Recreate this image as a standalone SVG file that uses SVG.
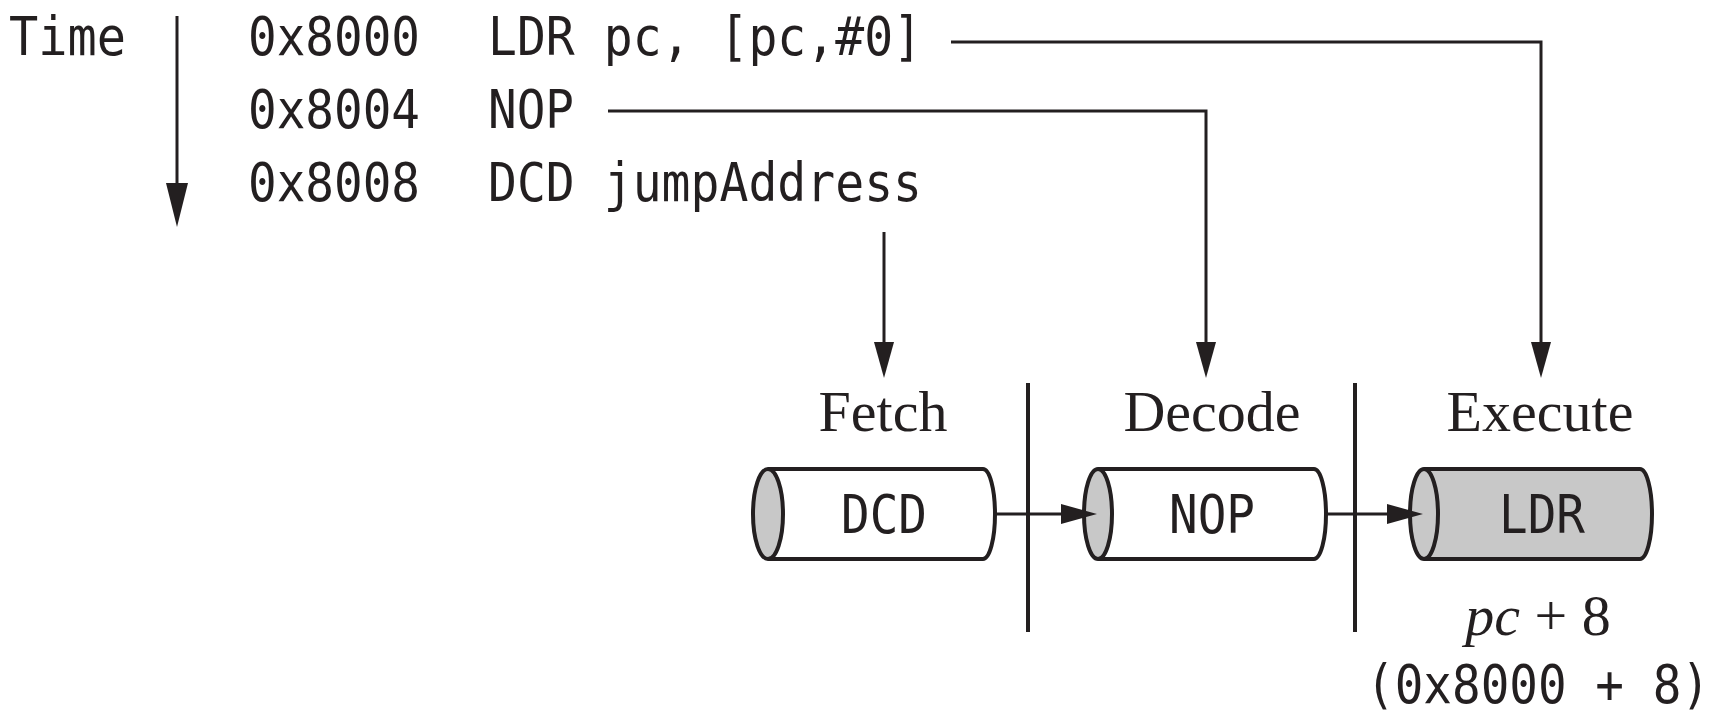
<svg xmlns="http://www.w3.org/2000/svg" width="1723" height="712" viewBox="0 0 1723 712">
<style>
  .mono { font-family: "DejaVu Sans Mono", "Liberation Mono", monospace; font-size: 54px; fill: #231f20; }
  .serif { font-family: "Liberation Serif", "Times New Roman", serif; font-size: 58px; fill: #231f20; }
  .conn { fill: none; stroke: #231f20; stroke-width: 3; }
  .sep { stroke: #231f20; stroke-width: 4; }
  .body { stroke: #231f20; stroke-width: 4; stroke-linejoin: round; }
  .cap { fill: #c8c8c8; stroke: #231f20; stroke-width: 4; }
</style>
<defs>
  <marker id="ah" markerUnits="userSpaceOnUse" markerWidth="36" markerHeight="20" refX="26" refY="10" orient="auto">
    <path d="M0,0 L36,10 L0,20 Z" fill="#231f20"/>
  </marker>
  <marker id="ahT" markerUnits="userSpaceOnUse" markerWidth="44" markerHeight="22" refX="34" refY="11" orient="auto">
    <path d="M0,0 L44,11 L0,22 Z" fill="#231f20"/>
  </marker>
</defs>

<g id="time">
  <text class="mono" x="9" y="55" textLength="117" lengthAdjust="spacingAndGlyphs">Time</text>
</g>

<g id="code">
  <text class="mono" x="248" y="55" textLength="172" lengthAdjust="spacingAndGlyphs">0x8000</text>
  <text class="mono" x="488" y="55" textLength="434" lengthAdjust="spacingAndGlyphs">LDR pc, [pc,#0]</text>
  <text class="mono" x="248" y="128" textLength="172" lengthAdjust="spacingAndGlyphs">0x8004</text>
  <text class="mono" x="488" y="128" textLength="86" lengthAdjust="spacingAndGlyphs">NOP</text>
  <text class="mono" x="248" y="201" textLength="172" lengthAdjust="spacingAndGlyphs">0x8008</text>
  <text class="mono" x="488" y="201" textLength="434" lengthAdjust="spacingAndGlyphs">DCD jumpAddress</text>
</g>

<g id="stages">
  <text class="serif" x="883" y="431" text-anchor="middle">Fetch</text>
  <text class="serif" x="1212" y="431" text-anchor="middle">Decode</text>
  <text class="serif" x="1540" y="431" text-anchor="middle">Execute</text>
  <line class="sep" x1="1028" y1="383" x2="1028" y2="632"/>
  <line class="sep" x1="1355" y1="383" x2="1355" y2="632"/>
</g>

<g id="fetch-dcd">
  <path class="body" fill="#ffffff" d="M768,469 H983 A12,45 0 0 1 983,559 H768"/>
  <ellipse class="cap" cx="768" cy="514" rx="15" ry="45"/>
  <text class="mono" x="884" y="533" text-anchor="middle" textLength="86" lengthAdjust="spacingAndGlyphs">DCD</text>
</g>

<g id="decode-nop">
  <path class="body" fill="#ffffff" d="M1098,469 H1314 A12,45 0 0 1 1314,559 H1098"/>
  <ellipse class="cap" cx="1098" cy="514" rx="14" ry="45"/>
  <text class="mono" x="1212" y="533" text-anchor="middle" textLength="86" lengthAdjust="spacingAndGlyphs">NOP</text>
</g>

<g id="execute-ldr">
  <path class="body" fill="#c8c8c8" d="M1424,469 H1640 A12,45 0 0 1 1640,559 H1424"/>
  <ellipse class="cap" cx="1424" cy="514" rx="14" ry="45"/>
  <text class="mono" x="1542" y="533" text-anchor="middle" textLength="86" lengthAdjust="spacingAndGlyphs">LDR</text>
</g>

<g id="result">
  <text class="serif" x="1538" y="635" text-anchor="middle"><tspan font-style="italic">pc</tspan> + 8</text>
  <text class="mono" x="1538" y="703" text-anchor="middle" textLength="344" lengthAdjust="spacingAndGlyphs">(0x8000 + 8)</text>
</g>

<g id="connectors">
  <path class="conn" d="M177,16 V217" marker-end="url(#ahT)"/>
  <path class="conn" d="M951,42 H1541 V368" marker-end="url(#ah)"/>
  <path class="conn" d="M608,111 H1206 V368" marker-end="url(#ah)"/>
  <path class="conn" d="M884,232 V368" marker-end="url(#ah)"/>
  <path class="conn" d="M995,514 H1087" marker-end="url(#ah)"/>
  <path class="conn" d="M1326,514 H1413" marker-end="url(#ah)"/>
</g>
</svg>
